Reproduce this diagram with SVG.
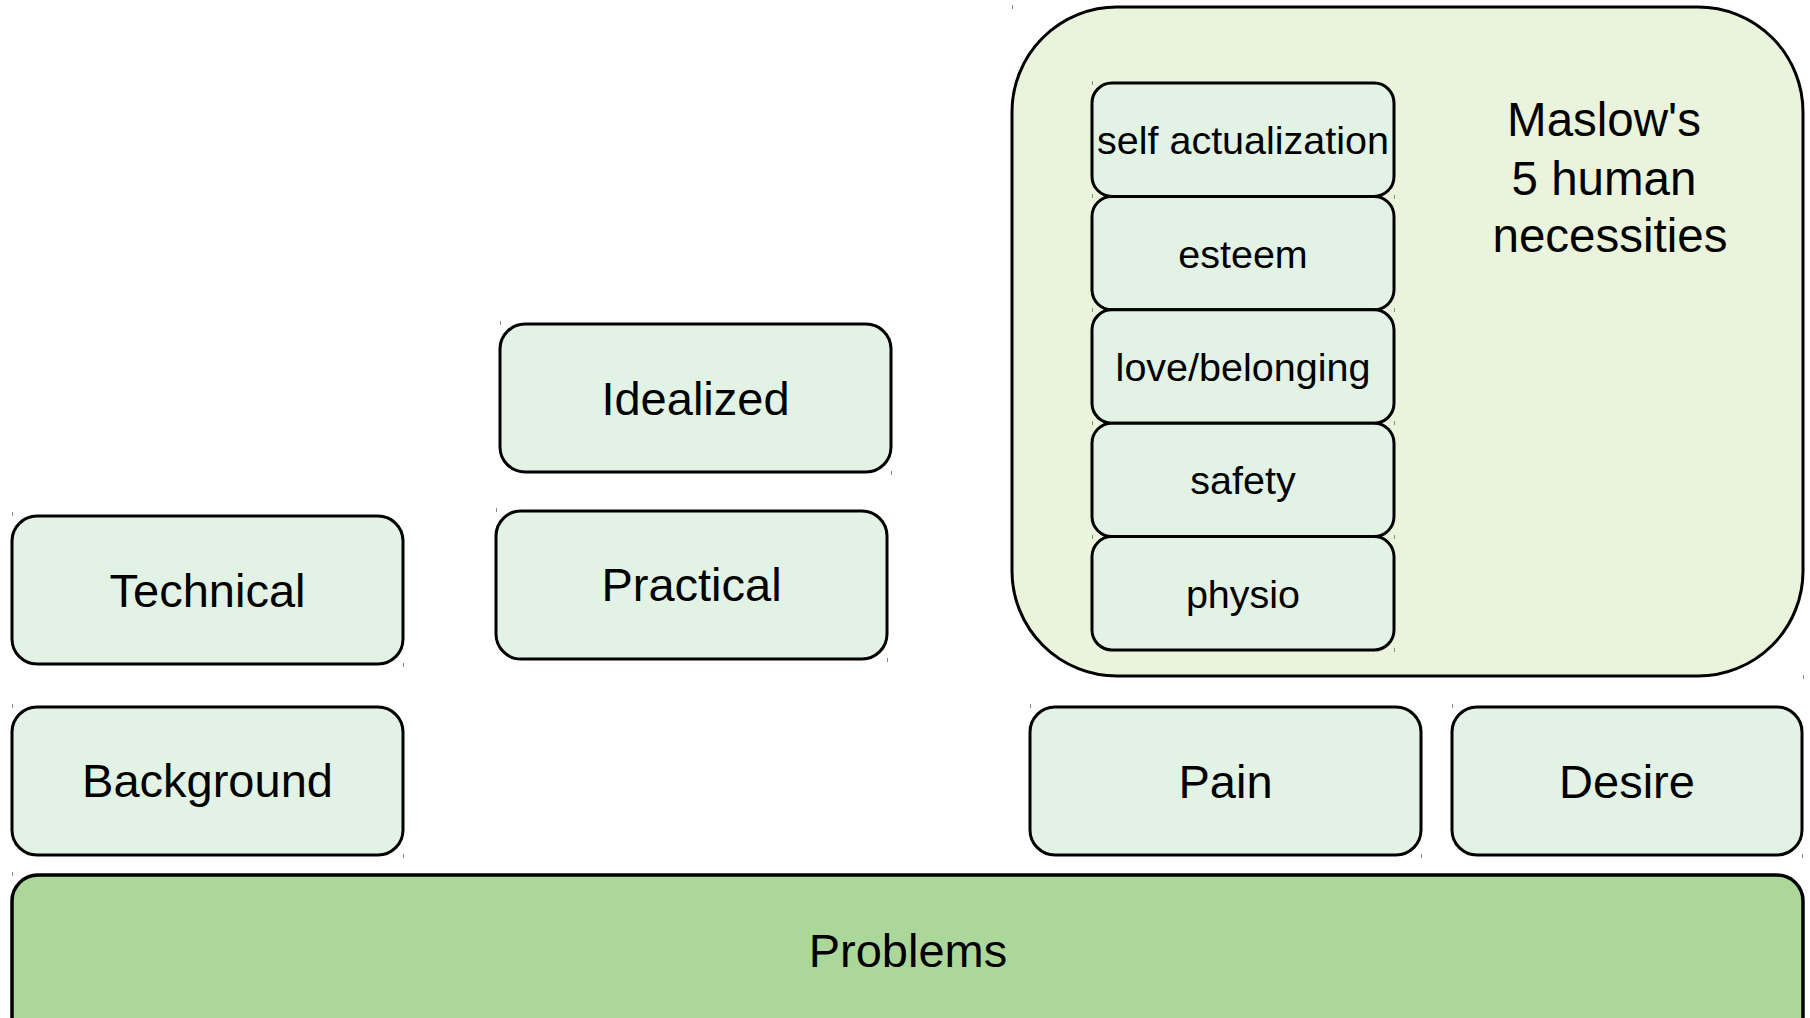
<svg xmlns="http://www.w3.org/2000/svg" width="1810" height="1018" viewBox="0 0 1810 1018">
  <style>
    .box { fill: #e2f2e4; stroke: #000; stroke-width: 3; }
    .group { fill: #eaf4dc; stroke: #000; stroke-width: 3; }
    .base { fill: #abd79a; stroke: #000; stroke-width: 3.5; }
    .lbl { font-family: "Liberation Sans", Arial, sans-serif; font-size: 47px; fill: #000; text-anchor: middle; }
    .sm { font-size: 39.5px; }
    .tick { stroke: #888; stroke-width: 1; }
  </style>
  <rect width="1810" height="1018" fill="#fff"/>

  <!-- base layer -->
  <g id="problems">
    <rect class="base" x="12" y="875" width="1791" height="170" rx="26"/>
    <text class="lbl" x="908" y="967">Problems</text>
  </g>

  <!-- left column -->
  <g id="background">
    <rect class="box" x="12" y="707" width="391" height="148" rx="25"/>
    <text class="lbl" x="207.5" y="797">Background</text>
  </g>
  <g id="technical">
    <rect class="box" x="12" y="516" width="391" height="148" rx="25"/>
    <text class="lbl" x="207.5" y="607">Technical</text>
  </g>

  <!-- middle column -->
  <g id="practical">
    <rect class="box" x="496" y="511" width="391" height="148" rx="25"/>
    <text class="lbl" x="691.5" y="601">Practical</text>
  </g>
  <g id="idealized">
    <rect class="box" x="500" y="324" width="391" height="148" rx="25"/>
    <text class="lbl" x="695.5" y="415">Idealized</text>
  </g>

  <!-- right column -->
  <g id="pain">
    <rect class="box" x="1030" y="707" width="391" height="148" rx="25"/>
    <text class="lbl" x="1225.5" y="798">Pain</text>
  </g>
  <g id="desire">
    <rect class="box" x="1452" y="707" width="350" height="148" rx="25"/>
    <text class="lbl" x="1627" y="798">Desire</text>
  </g>

  <!-- needs hierarchy -->
  <g id="maslow">
    <rect class="group" x="1012" y="7" width="791" height="669" rx="105"/>
    <text class="lbl" style="font-size:47.5px" x="1604" y="136">Maslow's</text>
    <text class="lbl" style="font-size:47.5px" x="1604" y="195">5 human</text>
    <text class="lbl" style="font-size:47.5px" x="1610" y="252">necessities</text>
  </g>
  <g id="self-actualization">
    <rect class="box" x="1092" y="83" width="302" height="113.4" rx="20"/>
    <text class="lbl sm" x="1243" y="154">self actualization</text>
  </g>
  <g id="esteem">
    <rect class="box" x="1092" y="196.4" width="302" height="113.4" rx="20"/>
    <text class="lbl sm" x="1243" y="267.5">esteem</text>
  </g>
  <g id="love-belonging">
    <rect class="box" x="1092" y="309.8" width="302" height="113.4" rx="20"/>
    <text class="lbl sm" x="1243" y="381">love/belonging</text>
  </g>
  <g id="safety">
    <rect class="box" x="1092" y="423.2" width="302" height="113.4" rx="20"/>
    <text class="lbl sm" x="1243" y="494">safety</text>
  </g>
  <g id="physio">
    <rect class="box" x="1092" y="536.6" width="302" height="113.4" rx="20"/>
    <text class="lbl sm" x="1243" y="608">physio</text>
  </g>

  <!-- no connectors in this layout -->
  <g id="connectors"/>

  <!-- small corner marks at shape bounds -->
  <g id="marks" class="tick">
    <line x1="12.5" y1="512" x2="12.5" y2="516"/>
    <line x1="403.5" y1="663" x2="403.5" y2="667"/>
    <line x1="12.5" y1="704" x2="12.5" y2="708"/>
    <line x1="403.5" y1="854" x2="403.5" y2="858"/>
    <line x1="500.5" y1="321" x2="500.5" y2="325"/>
    <line x1="891.5" y1="471" x2="891.5" y2="475"/>
    <line x1="496.5" y1="508" x2="496.5" y2="512"/>
    <line x1="887.5" y1="658" x2="887.5" y2="662"/>
    <line x1="1030.5" y1="704" x2="1030.5" y2="708"/>
    <line x1="1421.5" y1="854" x2="1421.5" y2="858"/>
    <line x1="1452.5" y1="704" x2="1452.5" y2="708"/>
    <line x1="1802.5" y1="854" x2="1802.5" y2="858"/>
    <line x1="1012.5" y1="5" x2="1012.5" y2="9"/>
    <line x1="1803.5" y1="675" x2="1803.5" y2="679"/>
    <line x1="12.5" y1="872" x2="12.5" y2="876"/>
    <line x1="1092.5" y1="81" x2="1092.5" y2="85"/>
    <line x1="1092.5" y1="194" x2="1092.5" y2="198"/>
    <line x1="1092.5" y1="308" x2="1092.5" y2="312"/>
    <line x1="1092.5" y1="421" x2="1092.5" y2="425"/>
    <line x1="1092.5" y1="535" x2="1092.5" y2="539"/>
    <line x1="1394.5" y1="195" x2="1394.5" y2="199"/>
    <line x1="1394.5" y1="308" x2="1394.5" y2="312"/>
    <line x1="1394.5" y1="421" x2="1394.5" y2="425"/>
    <line x1="1394.5" y1="535" x2="1394.5" y2="539"/>
    <line x1="1394.5" y1="648" x2="1394.5" y2="652"/>
  </g>
</svg>
